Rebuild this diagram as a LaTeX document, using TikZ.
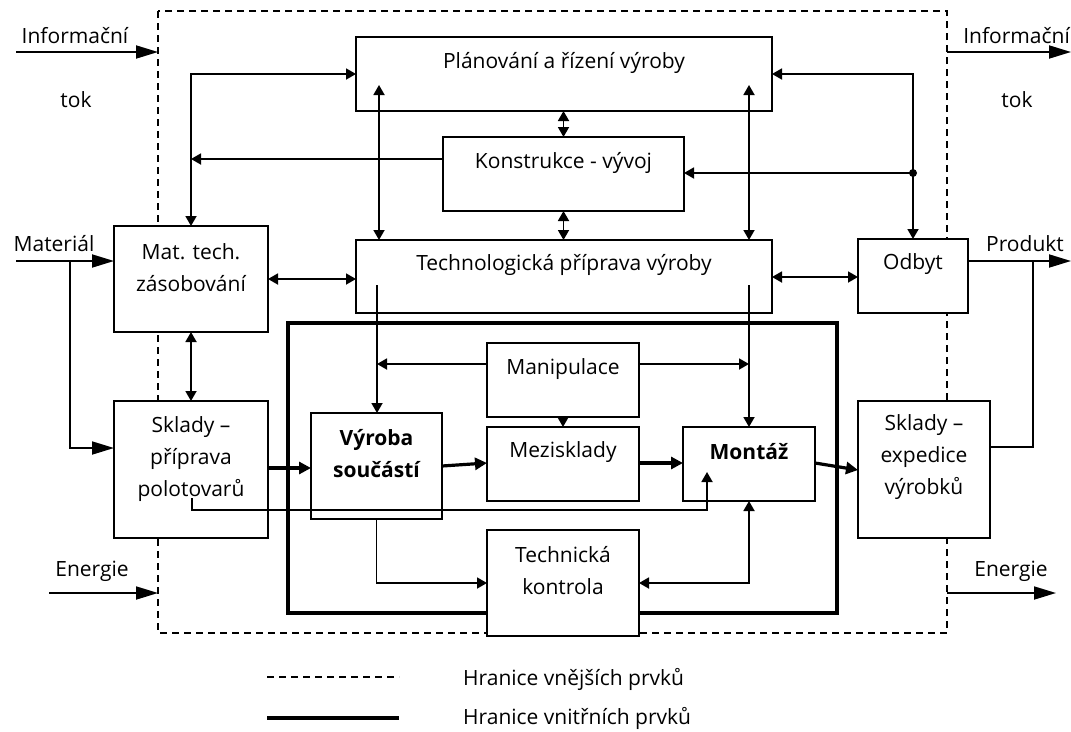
\documentclass[tikz,border=0pt]{standalone}
\usepackage{fontspec}
\setmainfont{Open Sans}
\usetikzlibrary{arrows.meta}
\begin{document}
\begin{tikzpicture}[x=1pt,y=-1pt,
  box/.style={draw, line width=1.8pt, fill=white, inner sep=0pt, outer sep=0pt},
  txt/.style={font=\fontsize{21}{32}\selectfont, align=center, inner sep=0pt},
  conn/.style={line width=1.8pt},
  thickconn/.style={line width=3.2pt},
  tipS/.tip={Triangle[length=10pt,width=11pt]},
  tipT/.tip={Triangle[length=12pt,width=12pt]},
  tipB/.tip={Triangle[length=22pt,width=13pt]},
  outerb/.style={line width=1.5pt, dash pattern=on 7pt off 5pt},
  innerb/.style={line width=3.5pt}
]
\useasboundingbox (0,0) rectangle (1071,731);
% outer dashed boundary
\draw[outerb] (158,11) rectangle (947,633);
% inner thick boundary
\node[draw, innerb, minimum width=549pt, minimum height=290pt, inner sep=0pt, outer sep=0pt] (inner) at (562.5,468) {};
% boxes
\node[box, minimum width=416pt, minimum height=74pt] (plan) at (564,74) {};
\node[box, minimum width=241pt, minimum height=74pt] (kon) at (563.5,174) {};
\node[box, minimum width=416pt, minimum height=73pt] (tech) at (564,276.5) {};
\node[box, minimum width=154pt, minimum height=106pt] (mat) at (191,279) {};
\node[box, minimum width=154pt, minimum height=137pt] (skl1) at (191,469.5) {};
\node[box, minimum width=152pt, minimum height=74pt] (manip) at (563,380) {};
\node[box, minimum width=152pt, minimum height=74pt] (mezi) at (563,464) {};
\node[box, minimum width=131pt, minimum height=106pt] (vyr) at (376.5,466) {};
\node[box, minimum width=132pt, minimum height=74pt] (mont) at (749,464) {};
\node[box, minimum width=152pt, minimum height=106pt] (tk) at (563,583) {};
\node[box, minimum width=110pt, minimum height=74pt] (odbyt) at (913,276) {};
\node[box, minimum width=132pt, minimum height=137pt] (skl2) at (924,469.5) {};
% box texts
\node[txt] (tplan) at (564,63) {Plánování a řízení výroby};
\node[txt] (tkon) at (563.5,163) {Konstrukce - vývoj};
\node[txt] (ttech) at (564,265) {Technologická příprava výroby};
\node[txt] (tmat) at (191,268) {Mat. tech.\\zásobování};
\node[txt] (tskl1) at (191,459) {Sklady --\\příprava\\polotovarů};
\node[txt] (tmanip) at (563,369) {Manipulace};
\node[txt] (tmezi) at (563,452) {Mezisklady};
\node[txt, font=\fontsize{21}{32}\selectfont\bfseries] (tvyr) at (376.5,454) {Výroba\\součástí};
\node[txt, font=\fontsize{21}{32}\selectfont\bfseries] (tmont) at (749,452) {Montáž};
\node[txt] (ttk) at (563,571) {Technická\\kontrola};
\node[txt] (todbyt) at (913,264) {Odbyt};
\node[txt] (tskl2) at (924,457) {Sklady --\\expedice\\výrobků};
% outside labels
\node[txt] (linfo) at (75,36) {Informační};
\node[txt] (ltok) at (76,100) {tok};
\node[txt, anchor=east] (rinfo) at (1070,36) {Informační};
\node[txt] (rtok) at (1017,100) {tok};
\node[txt] (lmat) at (54,244) {Materiál};
\node[txt] (lene) at (92,571) {Energie};
\node[txt] (rene) at (1011,571) {Energie};
\node[txt] (lprod) at (1025,244) {Produkt};
% coordinates for free ends
\coordinate (infoL) at (16,52);
\coordinate (infoLe) at (158,52);
\coordinate (infoR) at (947,52);
\coordinate (infoRe) at (1071,52);
\coordinate (matS) at (16,261);
\coordinate (matB) at (70,261);
\coordinate (eneL) at (49,593);
\coordinate (eneLe) at (158,593);
\coordinate (eneR) at (947,593);
\coordinate (eneRe) at (1056,593);
\coordinate (prodE) at (1071,261);
\coordinate (dot) at (913,173);
\coordinate (vL) at (191,159);
% external flows
\draw[conn, -{tipB}] (infoL) -- (infoLe);
\draw[conn, -{tipB}] (infoR) -- (infoRe);
\draw[conn, -{tipB}] (matS) -- (mat.west |- matS);
\draw[conn, -{tipB}] (matB) |- (skl1.west |- 0,448);
\draw[conn, -{tipB}] (eneL) -- (eneLe);
\draw[conn, -{tipB}] (eneR) -- (eneRe);
\draw[conn, -{tipB}] (odbyt.east |- prodE) -- (prodE);
\draw[conn] (1033,261) |- (skl2.east |- 0,447);
% info connections
\draw[conn, {tipS}-{tipS}] (plan.west |- 0,74) -| (mat.north);
\draw[conn, -{tipS}] (kon.west |- vL) -- (vL);
\draw[conn, {tipS}-{tipS}] (plan.east |- 0,74) -| (odbyt.north);
\draw[conn, -{tipS}] (dot) -- (kon.east |- dot);
\fill (dot) circle (4pt);
\draw[conn, {tipS}-{tipS}] (379,85) -- (tech.north -| 379,0);
\draw[conn, {tipS}-{tipS}] (749,85) -- (tech.north -| 749,0);
\draw[conn, {tipS}-{tipS}] (plan.south -| kon.north) -- (kon.north);
\draw[conn, {tipS}-{tipS}] (kon.south) -- (tech.north -| kon.south);
\draw[conn, {tipS}-{tipS}] (mat.east |- 0,279) -- (tech.west |- 0,279);
\draw[conn, {tipS}-{tipS}] (tech.east |- 0,277) -- (odbyt.west |- 0,277);
\draw[conn, {tipS}-{tipS}] (mat.south) -- (skl1.north);
% production area
\draw[conn, -{tipS}] (377,285) -- (vyr.north -| 377,0);
\draw[conn, -{tipS}] (749,285) -- (mont.north);
\draw[conn, -{tipS}] (manip.west |- 0,364) -- (377,364);
\draw[conn, -{tipS}] (manip.east |- 0,364) -- (749,364);
\draw[conn, -{tipS}] (manip.south) -- (mezi.north);
\draw[thickconn, -{tipT}] (skl1.east |- 0,468) -- (vyr.west |- 0,468);
\draw[thickconn, -{tipT}] (vyr.east |- 0,466) -- (mezi.west |- 0,463);
\draw[thickconn, -{tipT}] (mezi.east |- 0,463) -- (mont.west |- 0,463);
\draw[thickconn, -{tipT}] (mont.east |- 0,463) -- (skl2.west |- 0,470);
\draw[conn, -{tipS}] (192,498) |- (707,510) -- (707,472);
\draw[conn, -{tipS}] (vyr.south) |- (tk.west |- 0,583);
\draw[conn, {tipS}-{tipS}] (tk.east |- 0,583) -| (mont.south);
% legend
\draw[outerb] (267,677) -- (399,677);
\draw[innerb] (267,718) -- (399,718);
\node[txt, anchor=west] (leg1) at (463,679) {Hranice vnějších prvků};
\node[txt, anchor=west] (leg2) at (463,718) {Hranice vnitřních prvků};
\end{tikzpicture}
\end{document}
